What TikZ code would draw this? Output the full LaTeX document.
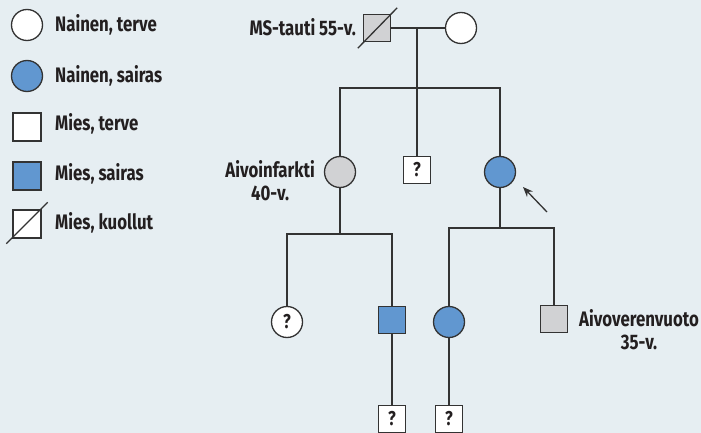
\documentclass[tikz,border=0pt]{standalone}
\usepackage{fontspec}
\setmainfont{Fira Sans}[FakeStretch=0.8]
\usetikzlibrary{arrows.meta,calc}
\definecolor{bgc}{HTML}{E6EEF2}
\definecolor{linec}{HTML}{333333}
\definecolor{txtc}{HTML}{231F20}
\definecolor{bluef}{HTML}{6197D0}
\definecolor{greyf}{HTML}{D1D2D4}
\tikzset{
  ln/.style={draw=linec, line width=1.3pt},
  fem/.style={circle, ln, minimum size=31pt, inner sep=0pt, text=txtc, font=\bfseries\fontsize{20}{22}\selectfont},
  mal/.style={rectangle, ln, minimum size=27pt, inner sep=0pt, text=txtc, font=\bfseries\fontsize{20}{22}\selectfont},
  lbl/.style={inner sep=0pt, text=txtc, font=\bfseries\fontsize{21}{23}\selectfont},
  leg/.style={inner sep=0pt, text=txtc, font=\bfseries\fontsize{21}{24}\selectfont, anchor=base west},
}
\begin{document}
\begin{tikzpicture}[x=1pt,y=-1pt]
\fill[bgc] (0,0) rectangle (701,433);
\useasboundingbox (0,0) rectangle (701,433);
% legend
\node[fem, fill=white] (lc1) at (27,25) {};
\node[fem, fill=bluef] (lc2) at (27,76) {};
\node[mal, fill=white, minimum size=28pt] (ls1) at (27,127) {};
\node[mal, fill=bluef, minimum size=28pt] (ls2) at (27,176) {};
\node[mal, fill=white, minimum size=28pt] (ls3) at (27,224) {};
\draw[ln] ($(ls3.south west)+(-6,5)$) -- ($(ls3.north east)+(6,-7)$);
\node[leg] (t1) at (55,32) {Nainen, terve};
\node[leg] (t2) at (55,83) {Nainen, sairas};
\node[leg] (t3) at (55,131) {Mies, terve};
\node[leg] (t4) at (55,180) {Mies, sairas};
\node[leg] (t5) at (55,229) {Mies, kuollut};
% generation I
\node[mal, fill=greyf] (fa) at (377,28) {};
\draw[ln] ($(fa.south west)+(-5,6)$) -- ($(fa.north east)+(6,-6)$);
\node[fem, fill=white] (mo) at (461,28) {};
\node[lbl, anchor=base east] (fal) at (356,36) {MS-tauti 55-v.};
\coordinate (m1) at (417,28);
\coordinate (s1) at (417,88);
\draw[ln] (fa.east) -- (mo.west);
% generation II
\node[fem, fill=greyf] (c1) at (340,172) {};
\node[mal, fill=white] (c2) at (417,170) {?};
\node[fem, fill=bluef] (c3) at (500,172) {};
\draw[ln] (m1) -- (s1);
\draw[ln] (c1.north) -- (c1.north |- s1) -- (c3.north |- s1) -- (c3.north);
\draw[ln] (s1) -- (c2.north);
\node[lbl, anchor=north east, align=center] (c1l) at (315,160) {Aivoinfarkti\\40-v.};
\coordinate (ar1) at (547,212);
\coordinate (ar2) at (523,187);
\draw[ln, -{Stealth[length=10pt,width=8pt]}] (ar1) -- (ar2);
% generation III
\coordinate (s2) at (340,234);
\coordinate (s3) at (500,228);
\node[fem, fill=white] (g1) at (287,322) {?};
\node[mal, fill=bluef] (g2) at (392,320) {};
\node[fem, fill=bluef] (g3) at (449,322) {};
\node[mal, fill=greyf] (g4) at (554,319) {};
\draw[ln] (c1.south) -- (s2);
\draw[ln] (g1.north) -- (g1.north |- s2) -- (g2.north |- s2) -- (g2.north);
\draw[ln] (c3.south) -- (s3);
\draw[ln] (g3.north) -- (g3.north |- s3) -- (g4.north |- s3) -- (g4.north);
\node[lbl, anchor=north west, align=center] (g4l) at (579,309) {Aivoverenvuoto\\35-v.};
% generation IV
\node[mal, fill=white] (h1) at (392,419) {?};
\node[mal, fill=white] (h2) at (449,419) {?};
\draw[ln] (g2.south) -- (h1.north);
\draw[ln] (g3.south) -- (h2.north);
\end{tikzpicture}
\end{document}
